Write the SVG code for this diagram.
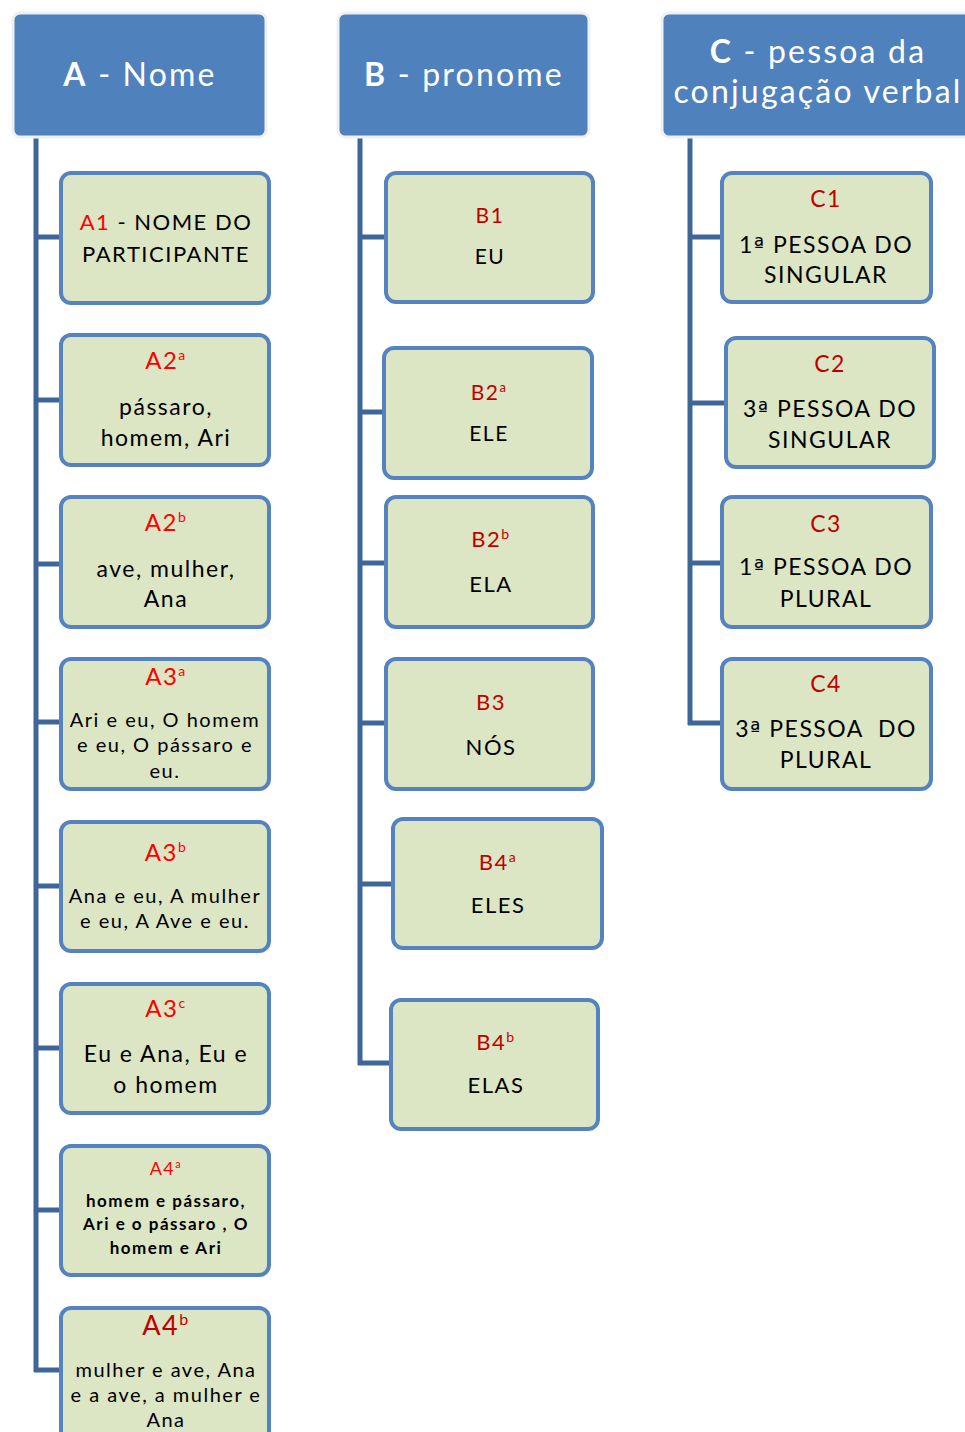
<svg xmlns="http://www.w3.org/2000/svg" width="965" height="1432" viewBox="0 0 965 1432">
<style>
.hdr{fill:#4F81BD;stroke:#F0F0F0;stroke-width:3}
.box{fill:#DCE6C4;stroke:#5483BF;stroke-width:4}
.ht{font-family:Lato,"Open Sans",sans-serif;font-size:32px;fill:#FFFFFF;text-anchor:middle;letter-spacing:2.2px}
.t{font-family:Lato,"Open Sans",sans-serif;fill:#000;text-anchor:middle;letter-spacing:1.5px}
.r{fill:#FF0000}
.dr{fill:#C00000}
.o{font-family:"DejaVu Sans",sans-serif;font-size:22px}
.ln{stroke:#3F6698;stroke-width:5;fill:none}
</style>
<rect width="965" height="1432" fill="#FFFFFF"/>
<g id="connectors">
<path class="ln" d="M36 138V1372M36 237H62M36 400H62M36 564H62M36 722H62M36 886H62M36 1048H62M36 1210H62M34 1370H62"/>
<path class="ln" d="M360 138V1065M360 237H387M360 412H385M360 563H387M360 723H387M360 884H394M358 1063H392"/>
<path class="ln" d="M690 138V725M690 237H723M690 403H727M690 563H723M688 723H723"/>
</g>
<g id="A"><rect class="hdr" x="13" y="13" width="253" height="124" rx="7"/>
<text class="ht" x="140" y="86"><tspan font-weight="bold">A</tspan> - Nome</text></g>
<g id="B"><rect class="hdr" x="338" y="13" width="251" height="124" rx="7"/>
<text class="ht" x="464" y="86"><tspan font-weight="bold">B</tspan> - pronome</text></g>
<g id="C"><rect class="hdr" x="662" y="13" width="320" height="124" rx="7"/>
<text class="ht" x="818" y="63"><tspan font-weight="bold">C</tspan> - pessoa da</text>
<text class="ht" x="818" y="103">conjugação verbal</text></g>

<g id="A1"><rect class="box" x="61" y="173" width="208" height="130" rx="10"/>
<text class="t" x="166" y="230" font-size="22"><tspan class="r">A1</tspan> - NOME DO</text>
<text class="t" x="166" y="262" font-size="22">PARTICIPANTE</text></g>
<g id="A2a"><rect class="box" x="61" y="335" width="208" height="130" rx="10"/>
<text class="t r" x="166" y="369" font-size="24">A2<tspan font-size="14" dy="-9">a</tspan></text>
<text class="t" x="166" y="415" font-size="23" letter-spacing="2">pássaro,</text>
<text class="t" x="166" y="446" font-size="23" letter-spacing="2">homem, Ari</text></g>
<g id="A2b"><rect class="box" x="61" y="497" width="208" height="130" rx="10"/>
<text class="t r" x="166" y="531" font-size="24">A2<tspan font-size="14" dy="-9">b</tspan></text>
<text class="t" x="166" y="577" font-size="23" letter-spacing="2">ave, mulher,</text>
<text class="t" x="166" y="607" font-size="23" letter-spacing="2">Ana</text></g>
<g id="A3a"><rect class="box" x="61" y="659" width="208" height="130" rx="10"/>
<text class="t r" x="166" y="685" font-size="24">A3<tspan font-size="14" dy="-9">a</tspan></text>
<text class="t" x="165" y="727" font-size="20" letter-spacing="0.8">Ari e eu, O homem</text>
<text class="t" x="165" y="752" font-size="20" letter-spacing="0.8">e eu, O pássaro e</text>
<text class="t" x="165" y="778" font-size="20" letter-spacing="0.8">eu.</text></g>
<g id="A3b"><rect class="box" x="61" y="822" width="208" height="129" rx="10"/>
<text class="t r" x="166" y="861" font-size="24">A3<tspan font-size="14" dy="-9">b</tspan></text>
<text class="t" x="165" y="903" font-size="20" letter-spacing="0.8">Ana e eu, A mulher</text>
<text class="t" x="165" y="928" font-size="20" letter-spacing="0.8">e eu, A Ave e eu.</text></g>
<g id="A3c"><rect class="box" x="61" y="984" width="208" height="129" rx="10"/>
<text class="t r" x="166" y="1017" font-size="24">A3<tspan font-size="14" dy="-9">c</tspan></text>
<text class="t" x="166" y="1062" font-size="23" letter-spacing="1.7">Eu e Ana, Eu e</text>
<text class="t" x="166" y="1093" font-size="23" letter-spacing="1.7">o homem</text></g>
<g id="A4a"><rect class="box" x="61" y="1146" width="208" height="129" rx="10"/>
<text class="t r" x="166" y="1175" font-size="18">A4<tspan font-size="11" dy="-7">a</tspan></text>
<text class="t" x="166" y="1207" font-size="17" font-weight="bold" letter-spacing="0.8">homem e pássaro,</text>
<text class="t" x="166" y="1230" font-size="17" font-weight="bold" letter-spacing="0.8">Ari e o pássaro , O</text>
<text class="t" x="166" y="1254" font-size="17" font-weight="bold" letter-spacing="0.8">homem e Ari</text></g>
<g id="A4b"><rect class="box" x="61" y="1308" width="208" height="140" rx="10"/>
<text class="t dr" x="166" y="1335" font-size="27">A4<tspan font-size="16" dy="-10">b</tspan></text>
<text class="t" x="166" y="1377" font-size="20" letter-spacing="0.7">mulher e ave, Ana</text>
<text class="t" x="166" y="1402" font-size="20" letter-spacing="0.7">e a ave, a mulher e</text>
<text class="t" x="166" y="1427" font-size="20" letter-spacing="0.7">Ana</text></g>

<g id="B1"><rect class="box" x="386" y="173" width="207" height="129" rx="10"/>
<text class="t dr" x="490" y="223" font-size="21">B1</text>
<text class="t" x="490" y="264" font-size="21">EU</text></g>
<g id="B2a"><rect class="box" x="384" y="348" width="208" height="130" rx="10"/>
<text class="t dr" x="489" y="400" font-size="21">B2<tspan font-size="13" dy="-8">a</tspan></text>
<text class="t" x="489" y="441" font-size="21">ELE</text></g>
<g id="B2b"><rect class="box" x="386" y="497" width="207" height="130" rx="10"/>
<text class="t dr" x="491" y="547" font-size="22">B2<tspan font-size="14" dy="-8">b</tspan></text>
<text class="t" x="491" y="592" font-size="22">ELA</text></g>
<g id="B3"><rect class="box" x="386" y="659" width="207" height="130" rx="10"/>
<text class="t dr" x="491" y="710" font-size="22">B3</text>
<text class="t" x="491" y="755" font-size="22">NÓS</text></g>
<g id="B4a"><rect class="box" x="393" y="819" width="209" height="129" rx="10"/>
<text class="t dr" x="498" y="870" font-size="22">B4<tspan font-size="14" dy="-8">a</tspan></text>
<text class="t" x="498" y="913" font-size="22">ELES</text></g>
<g id="B4b"><rect class="box" x="391" y="1000" width="207" height="129" rx="10"/>
<text class="t dr" x="496" y="1050" font-size="22">B4<tspan font-size="14" dy="-8">b</tspan></text>
<text class="t" x="496" y="1093" font-size="22">ELAS</text></g>

<g id="C1"><rect class="box" x="722" y="173" width="209" height="129" rx="10"/>
<text class="t dr" x="826" y="207" font-size="23">C1</text>
<text class="t" x="826" y="253" font-size="23" letter-spacing="1.2">1<tspan class="o">ª</tspan> PESSOA DO</text>
<text class="t" x="826" y="283" font-size="23" letter-spacing="1.2">SINGULAR</text></g>
<g id="C2"><rect class="box" x="726" y="338" width="208" height="129" rx="10"/>
<text class="t dr" x="830" y="372" font-size="23">C2</text>
<text class="t" x="830" y="417" font-size="23" letter-spacing="1.2">3<tspan class="o">ª</tspan> PESSOA DO</text>
<text class="t" x="830" y="448" font-size="23" letter-spacing="1.2">SINGULAR</text></g>
<g id="C3"><rect class="box" x="722" y="497" width="209" height="130" rx="10"/>
<text class="t dr" x="826" y="532" font-size="23">C3</text>
<text class="t" x="826" y="575" font-size="23" letter-spacing="1.2">1<tspan class="o">ª</tspan> PESSOA DO</text>
<text class="t" x="826" y="607" font-size="23" letter-spacing="1.2">PLURAL</text></g>
<g id="C4"><rect class="box" x="722" y="659" width="209" height="130" rx="10"/>
<text class="t dr" x="826" y="692" font-size="23">C4</text>
<text class="t" x="826" y="737" font-size="23" letter-spacing="1.2" xml:space="preserve">3<tspan class="o">ª</tspan> PESSOA  DO</text>
<text class="t" x="826" y="768" font-size="23" letter-spacing="1.2">PLURAL</text></g>
</svg>
